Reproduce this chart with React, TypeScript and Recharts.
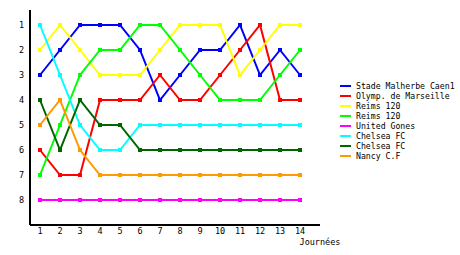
import React from "react";
import { LineChart, Line, XAxis, YAxis } from "recharts";

const journees = [1, 2, 3, 4, 5, 6, 7, 8, 9, 10, 11, 12, 13, 14];
const rankTicks = [1, 2, 3, 4, 5, 6, 7, 8];

const caen = [3, 2, 1, 1, 1, 2, 4, 3, 2, 2, 1, 3, 2, 3];
const marseille = [6, 7, 7, 4, 4, 4, 3, 4, 4, 3, 2, 1, 4, 4];
const reimsA = [2, 1, 2, 3, 3, 3, 2, 1, 1, 1, 3, 2, 1, 1];
const reimsB = [7, 5, 3, 2, 2, 1, 1, 2, 3, 4, 4, 4, 3, 2];
const gones = [8, 8, 8, 8, 8, 8, 8, 8, 8, 8, 8, 8, 8, 8];
const chelseaA = [1, 3, 5, 6, 6, 5, 5, 5, 5, 5, 5, 5, 5, 5];
const chelseaB = [4, 6, 4, 5, 5, 6, 6, 6, 6, 6, 6, 6, 6, 6];
const nancy = [5, 4, 6, 7, 7, 7, 7, 7, 7, 7, 7, 7, 7, 7];

const series = [
  { key: "caen", name: "Stade Malherbe Caen1", color: "#0000ff", values: caen },
  { key: "om", name: "Olymp. de Marseille", color: "#ff0000", values: marseille },
  { key: "reimsA", name: "Reims 120", color: "#ffff00", values: reimsA },
  { key: "reimsB", name: "Reims 120", color: "#00ff00", values: reimsB },
  { key: "gones", name: "United Gones", color: "#ff00ff", values: gones },
  { key: "chelseaA", name: "Chelsea FC", color: "#00ffff", values: chelseaA },
  { key: "chelseaB", name: "Chelsea FC", color: "#006600", values: chelseaB },
  { key: "nancy", name: "Nancy C.F", color: "#ff9900", values: nancy },
];

const data = journees.map((j, i) => {
  const row: Record<string, number> = { j };
  series.forEach((s) => (row[s.key] = s.values[i]));
  return row;
});

const FONT = "'DejaVu Sans Mono', monospace";

const SquareDot = (color: string) => (props: any) => {
  const { cx, cy, index } = props;
  return <rect key={index} x={cx - 2} y={cy - 2} width={4} height={4} fill={color} />;
};

const LegendBox = () => (
  <div style={{ position: "absolute", left: 340, top: 81, fontFamily: FONT, fontSize: 8.2 }}>
    {series.map((s) => (
      <div key={s.key} style={{ display: "flex", alignItems: "center", height: 10 }}>
        <div style={{ width: 11, height: 2, background: s.color, marginRight: 5 }} />
        <span style={{ color: "#000", lineHeight: "10px", whiteSpace: "nowrap" }}>{s.name}</span>
      </div>
    ))}
  </div>
);

export default function App() {
  return (
    <div style={{ position: "absolute", left: 0, top: 0, width: 460, height: 255, background: "#fff" }}>
      <LineChart width={460} height={255} data={data} margin={{ top: 10, right: 140, left: 0, bottom: 0 }}>
        <XAxis
          dataKey="j"
          type="number"
          domain={[0.5, 15]}
          ticks={journees}
          interval={0}
          height={30}
          stroke="#000"
          strokeWidth={2}
          tickLine={false}
          tickSize={0}
          tickMargin={3}
          tick={{ fill: "#000", fontSize: 8.5, fontFamily: FONT }}
          label={(p: any) => {
            const vb = p.viewBox;
            return (
              <text x={vb.x + vb.width} y={vb.y + 20} textAnchor="middle" fontSize={8.5} fontFamily={FONT} fill="#000">
                Journées
              </text>
            );
          }}
        />
        <YAxis
          type="number"
          reversed
          domain={[0.4, 9]}
          ticks={rankTicks}
          interval={0}
          width={30}
          stroke="#000"
          strokeWidth={2}
          tickLine={false}
          tickSize={4}
          tickMargin={2}
          tick={{ fill: "#000", fontSize: 8.5, fontFamily: FONT }}
        />
        {series.map((s) => (
          <Line
            key={s.key}
            type="linear"
            dataKey={s.key}
            name={s.name}
            stroke={s.color}
            strokeWidth={2}
            dot={SquareDot(s.color)}
            activeDot={false}
            isAnimationActive={false}
          />
        ))}
      </LineChart>
      <LegendBox />
    </div>
  );
}
